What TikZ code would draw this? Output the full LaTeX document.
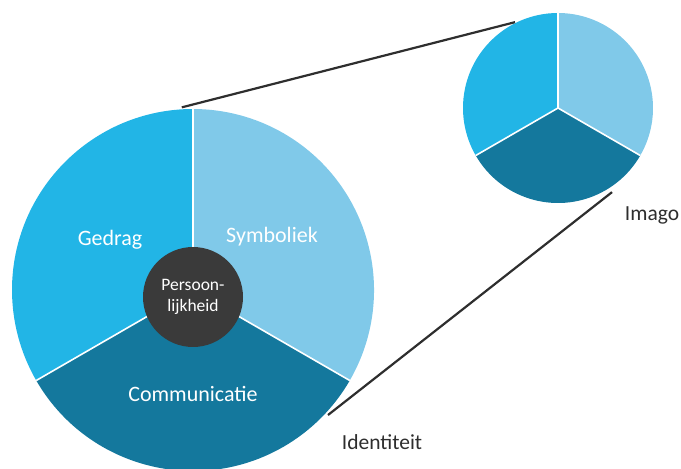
\documentclass[tikz,border=0pt]{standalone}
\usepackage{fontspec}
\setmainfont{Carlito}
\definecolor{gedragblue}{HTML}{22B5E6}
\definecolor{symbolblue}{HTML}{80C9E9}
\definecolor{commblue}{HTML}{14789D}
\definecolor{kerngray}{HTML}{3A3A3A}
\definecolor{textgray}{HTML}{2E2E2E}
\tikzset{
	seglabel/.style={text=white, font=\fontsize{22}{26}\selectfont},
	outlabel/.style={text=textgray, font=\fontsize{21.5}{26}\selectfont},
	divider/.style={draw=white, line width=1.6pt},
	connector/.style={draw=textgray, line width=2.2pt}
}
\begin{document}
\begin{tikzpicture}[x=1pt, y=1pt, >=latex]
	\useasboundingbox (0,0) rectangle (681,469);
	\coordinate (bigc) at (193,179);
	\coordinate (smallc) at (558,361);
	\fill[gedragblue] (bigc) -- ++(90:181) arc[start angle=90, end angle=210, radius=181] -- cycle;
	\fill[commblue] (bigc) -- ++(210:181) arc[start angle=210, end angle=330, radius=181] -- cycle;
	\fill[symbolblue] (bigc) -- ++(330:181) arc[start angle=330, end angle=450, radius=181] -- cycle;
	\draw[divider] (bigc) -- ++(90:181);
	\draw[divider] (bigc) -- ++(210:181);
	\draw[divider] (bigc) -- ++(330:181);
	\fill[gedragblue] (smallc) -- ++(90:95) arc[start angle=90, end angle=210, radius=95] -- cycle;
	\fill[commblue] (smallc) -- ++(210:95) arc[start angle=210, end angle=330, radius=95] -- cycle;
	\fill[symbolblue] (smallc) -- ++(330:95) arc[start angle=330, end angle=450, radius=95] -- cycle;
	\draw[divider] (smallc) -- ++(90:95);
	\draw[divider] (smallc) -- ++(210:95);
	\draw[divider] (smallc) -- ++(330:95);
	\node (kern) [at={(193,172)}, circle, fill=kerngray, minimum size=100pt, inner sep=0pt, text=white, align=center, font=\fontsize{17.5}{21}\selectfont] {Persoon-\\lijkheid};
	\node (gedrag) [at={(110,229)}, seglabel] {Gedrag};
	\node (symboliek) [at={(272,232)}, seglabel] {Symboliek};
	\node (communicatie) [at={(193,75)}, seglabel] {Communicatie};
	\node (identiteit) [at={(382,27)}, outlabel] {Identiteit};
	\node (imago) [at={(652,254)}, outlabel] {Imago};
	\path (bigc) ++(93.5:183) coordinate (bigtop);
	\path (bigc) ++(-42.8:184) coordinate (bigbottom);
	\path (smallc) ++(116.6:96) coordinate (smalltop);
	\path (smallc) ++(-57.3:100) coordinate (smallbottom);
	\draw[connector] (bigtop) -- (smalltop);
	\draw[connector] (bigbottom) -- (smallbottom);
\end{tikzpicture}
\end{document}
